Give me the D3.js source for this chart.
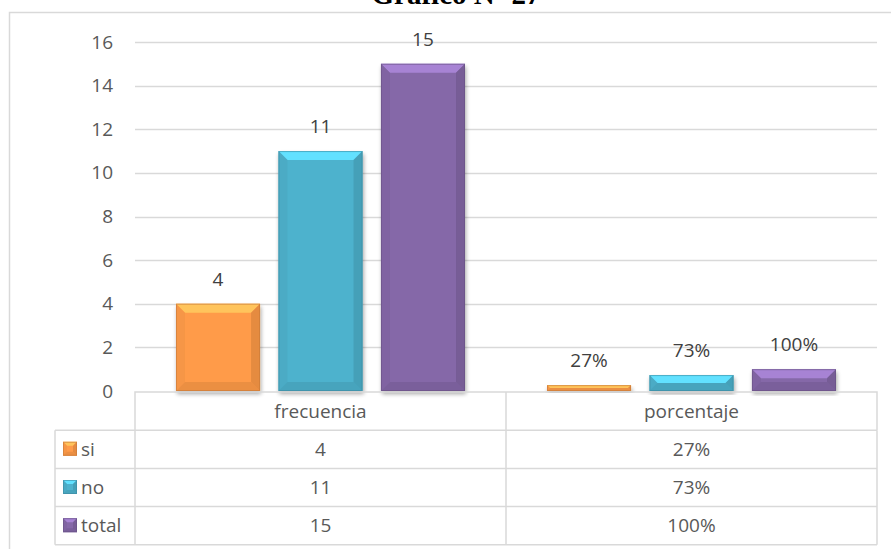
<!DOCTYPE html>
<html>
<head>
<meta charset="utf-8">
<script src="https://cdn.jsdelivr.net/npm/d3@7"></script>
<style>
  html, body { margin: 0; padding: 0; background: #ffffff; }
  svg { display: block; }
</style>
</head>
<body>
<svg id="chart" width="891" height="549"></svg>
<script>
// Survey results: counts and shares per answer
const categories = ["frecuencia", "porcentaje"];
const seriesNames = ["si", "no", "total"];
const frecuencia = [4, 11, 15];
const porcentaje = [0.27, 0.73, 1.00];
const yTicks = [0, 2, 4, 6, 8, 10, 12, 14, 16];
const seriesColors = ["#F79646", "#4BACC6", "#8064A2"];
const titleText = "Gráfico Nº 27";

const rows = seriesNames.map((s, i) => ({
  name: s,
  color: seriesColors[i],
  values: [frecuencia[i], porcentaje[i]],
  labels: [String(frecuencia[i]), d3.format(".0%")(porcentaje[i])]
}));

const svg = d3.select("#chart");
const font = "'Open Sans', 'Noto Sans', sans-serif";
const fs = 19;
const gridColor = "#d9d9d9";

const plotLeft = 135, plotRight = 877, plotTop = 42, plotBottom = 391;

const x0 = d3.scaleBand().domain(categories).range([plotLeft, plotRight])
  .paddingInner(0).paddingOuter(0);
const x1 = d3.scaleBand().domain(seriesNames).range([0, x0.bandwidth()])
  .paddingInner(0.18).paddingOuter(0.40);
const y = d3.scaleLinear().domain([0, 16]).range([plotBottom, plotTop]);

// Drop shadow under each bar
const defs = svg.append("defs");
const shadow = defs.append("filter").attr("id", "barShadow")
  .attr("x", "-20%").attr("y", "-20%").attr("width", "140%").attr("height", "140%");
shadow.append("feGaussianBlur").attr("in", "SourceAlpha").attr("stdDeviation", 2).attr("result", "blur");
shadow.append("feOffset").attr("in", "blur").attr("dx", 1).attr("dy", 3).attr("result", "off");
shadow.append("feComponentTransfer").attr("in", "off").attr("result", "soft")
  .append("feFuncA").attr("type", "linear").attr("slope", 0.35);
const merge = shadow.append("feMerge");
merge.append("feMergeNode").attr("in", "soft");
merge.append("feMergeNode").attr("in", "SourceGraphic");

// Outer chart frame
svg.append("path")
  .attr("d", "M9.5,560 L9.5,12.5 L900,12.5")
  .attr("fill", "none").attr("stroke", gridColor).attr("stroke-width", 1.5);

// Title (sits partly above the visible area)
svg.append("text")
  .attr("x", 456).attr("y", 4)
  .attr("text-anchor", "middle")
  .attr("font-family", "'Liberation Serif', 'Times New Roman', serif")
  .attr("font-weight", "bold").attr("font-size", 29)
  .attr("fill", "#000").text(titleText);

// Horizontal gridlines
svg.append("g").selectAll("line").data(yTicks.filter(t => t > 0)).join("line")
  .attr("x1", plotLeft).attr("x2", plotRight)
  .attr("y1", d => Math.round(y(d)) + 0.5).attr("y2", d => Math.round(y(d)) + 0.5)
  .attr("stroke", gridColor).attr("stroke-width", 1.3);

// Y axis labels
const yAxis = svg.append("g").attr("transform", `translate(${plotLeft},0)`)
  .call(d3.axisLeft(y).tickValues(yTicks).tickSize(0).tickPadding(22));
yAxis.select(".domain").remove();
yAxis.selectAll("text").attr("font-family", font).attr("font-size", fs).attr("fill", "#595959");

// Bevelled bar drawing
function bevelBar(g, x, yTop, w, h, base, depth) {
  const c = d3.color(base);
  const d = Math.max(0, Math.min(depth, h / 2, w / 2));
  const gg = g.append("g");
  gg.append("rect").attr("x", x).attr("y", yTop).attr("width", w).attr("height", h)
    .attr("fill", c.brighter(0.1).formatHex());
  const pts = (arr) => arr.map(p => p.join(",")).join(" ");
  const x2 = x + w, y2 = yTop + h;
  gg.append("polygon").attr("points", pts([[x, yTop], [x2, yTop], [x2 - d, yTop + d], [x + d, yTop + d]]))
    .attr("fill", c.brighter(0.75).formatHex());
  gg.append("polygon").attr("points", pts([[x, yTop], [x + d, yTop + d], [x + d, y2 - d], [x, y2]]))
    .attr("fill", c.darker(0.1).formatHex()).attr("opacity", 0.55);
  gg.append("polygon").attr("points", pts([[x2, yTop], [x2, y2], [x2 - d, y2 - d], [x2 - d, yTop + d]]))
    .attr("fill", c.darker(0.35).formatHex()).attr("opacity", 0.7);
  gg.append("polygon").attr("points", pts([[x, y2], [x + d, y2 - d], [x2 - d, y2 - d], [x2, y2]]))
    .attr("fill", c.darker(0.3).formatHex()).attr("opacity", 0.6);
  gg.append("rect").attr("x", x + 0.5).attr("y", yTop + 0.5)
    .attr("width", Math.max(0, w - 1)).attr("height", Math.max(0, h - 1))
    .attr("fill", "none").attr("stroke", c.darker(0.6).formatHex()).attr("stroke-width", 1).attr("opacity", 0.6);
  return gg;
}

// Bars and value labels
const barsG = svg.append("g");
rows.forEach(r => {
  categories.forEach((cat, ci) => {
    const v = r.values[ci];
    const bx = x0(cat) + x1(r.name);
    const bw = x1.bandwidth();
    const top = y(v);
    const g = barsG.append("g").attr("filter", "url(#barShadow)");
    bevelBar(g, bx, top, bw, y(0) - top, r.color, 9);
    svg.append("text")
      .attr("x", bx + bw / 2).attr("y", top - 18)
      .attr("text-anchor", "middle")
      .attr("font-family", font).attr("font-size", fs)
      .attr("fill", "#404040").text(r.labels[ci]);
  });
});

// Data table below the plot
const tableTop = 392, rowH = 38.2, legendLeft = 55;
const tbl = svg.append("g").attr("stroke", gridColor).attr("stroke-width", 1.5).attr("fill", "none");
// header row
tbl.append("path").attr("d", `M${plotLeft},${tableTop + rowH} L${plotLeft},${tableTop} L${plotRight},${tableTop} L${plotRight},${tableTop + rowH}`);
tbl.append("line").attr("x1", x0("porcentaje")).attr("x2", x0("porcentaje"))
  .attr("y1", tableTop).attr("y2", tableTop + rowH * 4);
// body rows
for (let i = 1; i <= 4; i++) {
  tbl.append("line").attr("x1", legendLeft).attr("x2", plotRight)
    .attr("y1", tableTop + rowH * i).attr("y2", tableTop + rowH * i);
}
tbl.append("line").attr("x1", legendLeft).attr("x2", legendLeft)
  .attr("y1", tableTop + rowH).attr("y2", tableTop + rowH * 4);
tbl.append("line").attr("x1", plotLeft).attr("x2", plotLeft)
  .attr("y1", tableTop + rowH).attr("y2", tableTop + rowH * 4);
tbl.append("line").attr("x1", plotRight).attr("x2", plotRight)
  .attr("y1", tableTop + rowH).attr("y2", tableTop + rowH * 4);

// header labels
svg.append("g").selectAll("text").data(categories).join("text")
  .attr("x", d => x0(d) + x0.bandwidth() / 2).attr("y", tableTop + rowH / 2 + 6.5)
  .attr("text-anchor", "middle").attr("font-family", font).attr("font-size", fs)
  .attr("fill", "#595959").text(d => d);

// table body
rows.forEach((r, i) => {
  const cy = tableTop + rowH * (i + 1) + rowH / 2;
  const kg = svg.append("g");
  bevelBar(kg, 63, cy - 7.5, 14, 14, r.color, 4);
  svg.append("text").attr("x", 81).attr("y", cy + 6.5)
    .attr("font-family", font).attr("font-size", fs).attr("fill", "#595959").text(r.name);
  categories.forEach((cat, ci) => {
    svg.append("text").attr("x", x0(cat) + x0.bandwidth() / 2).attr("y", cy + 6.5)
      .attr("text-anchor", "middle").attr("font-family", font).attr("font-size", fs)
      .attr("fill", "#595959").text(r.labels[ci]);
  });
});
</script>
</body>
</html>
